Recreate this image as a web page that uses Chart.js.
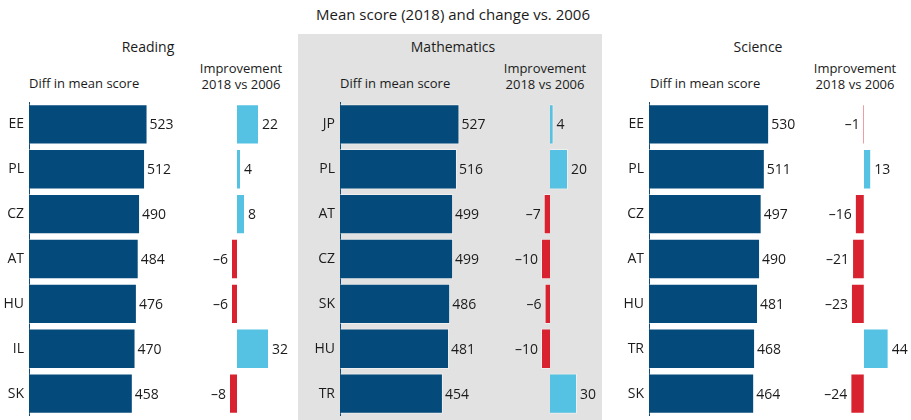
<!DOCTYPE html>
<html><head><meta charset="utf-8">
<script src="https://cdn.jsdelivr.net/npm/chart.js@4.4.1/dist/chart.umd.min.js"></script>
<style>
html,body{margin:0;padding:0;background:#fff;}
body{width:911px;height:420px;position:relative;overflow:hidden;font-family:"Open Sans",sans-serif;color:#1b1b1b;}
.box{position:absolute;}
.c{position:absolute;white-space:nowrap;transform:translate(-50%,-50%);text-align:center;line-height:16px;}
.l{position:absolute;white-space:nowrap;transform:translate(0,-50%);line-height:16px;}
</style></head><body>
<div class="box" style="left:298px;top:34px;width:304px;height:386px;background:#e1e2e1"></div>

<div class="c" style="left:453px;top:14px;font-size:15px;font-weight:500">Mean score (2018) and change vs. 2006</div>

<div class="c" style="left:148px;top:47px;font-size:14px;font-weight:500">Reading</div>
<div class="c" style="left:453px;top:47px;font-size:14px;font-weight:500">Mathematics</div>
<div class="c" style="left:758px;top:47px;font-size:14px;font-weight:500">Science</div>

<div class="l" style="left:29px;top:83px;font-size:13px">Diff in mean score</div>
<div class="l" style="left:340px;top:83px;font-size:13px">Diff in mean score</div>
<div class="l" style="left:650px;top:83px;font-size:13px">Diff in mean score</div>

<div class="c" style="left:241px;top:75.5px;font-size:13px">Improvement<br>2018 vs 2006</div>
<div class="c" style="left:545px;top:75.5px;font-size:13px">Improvement<br>2018 vs 2006</div>
<div class="c" style="left:855px;top:75.5px;font-size:13px">Improvement<br>2018 vs 2006</div>

<div class="box" style="left:0px;top:102px;width:205px;height:314px"><canvas id="s1"></canvas></div>
<div class="box" style="left:197px;top:102px;width:105px;height:314px"><canvas id="d1"></canvas></div>
<div class="box" style="left:311px;top:102px;width:205px;height:314px"><canvas id="s2"></canvas></div>
<div class="box" style="left:511px;top:102px;width:105px;height:314px"><canvas id="d2"></canvas></div>
<div class="box" style="left:620px;top:102px;width:205px;height:314px"><canvas id="s3"></canvas></div>
<div class="box" style="left:817px;top:102px;width:105px;height:314px"><canvas id="d3"></canvas></div>

<script>
const readingCountries = ['EE','PL','CZ','AT','HU','IL','SK'];
const readingScores = [523,512,490,484,476,470,458];
const readingChange = [22,4,8,-6,-6,32,-8];

const mathCountries = ['JP','PL','AT','CZ','SK','HU','TR'];
const mathScores = [527,516,499,499,486,481,454];
const mathChange = [4,20,-7,-10,-6,-10,30];

const scienceCountries = ['EE','PL','CZ','AT','HU','TR','SK'];
const scienceScores = [530,511,497,490,481,468,464];
const scienceChange = [-1,13,-16,-21,-23,44,-24];

const DARK = '#044a7a', LIGHT = '#55c2e3', RED = '#d9222f', TXT = '#1b1b1b';
const FONT = '"Open Sans", sans-serif';

const valueLabels = {
  id: 'valueLabels',
  afterDatasetsDraw(chart, args, opts) {
    const ctx = chart.ctx;
    const meta = chart.getDatasetMeta(0);
    const data = chart.data.datasets[0].data;
    ctx.save();
    ctx.font = '14px ' + FONT;
    ctx.fillStyle = TXT;
    ctx.textBaseline = 'middle';
    meta.data.forEach((bar, i) => {
      const v = data[i];
      if (v < 0) {
        ctx.textAlign = 'right';
        ctx.fillText('\u2013' + Math.abs(v), bar.x - 3, bar.y + 1);
      } else {
        ctx.textAlign = 'left';
        ctx.fillText(String(v), bar.x + (opts.gap || 3), bar.y + 1);
      }
    });
    ctx.restore();
  }
};

function scoreChart(id, labels, values) {
  return new Chart(document.getElementById(id), {
    type: 'bar',
    data: { labels: labels, datasets: [{ data: values, backgroundColor: DARK,
      borderColor: 'rgba(255,255,255,0.45)', borderWidth: 1,
      barPercentage: 0.9, categoryPercentage: 1 }] },
    options: {
      indexAxis: 'y', responsive: true, maintainAspectRatio: false, animation: false,
      layout: { padding: { left: 0, right: 40, top: 0, bottom: 0 } },
      plugins: { legend: { display: false }, tooltip: { enabled: false }, valueLabels: { gap: 2 } },
      scales: {
        x: { display: false, min: 0, max: 600 },
        y: {
          grid: { display: false, drawTicks: false, tickLength: 0 },
          border: { display: true, color: '#0d4a78', width: 1 },
          ticks: { color: TXT, padding: 5, font: { family: FONT, size: 14 } },
          afterFit(s) { s.width = 29; s.paddingTop = 0; s.paddingBottom = 0; }
        }
      }
    },
    plugins: [valueLabels]
  });
}

function changeChart(id, values, mn, mx) {
  return new Chart(document.getElementById(id), {
    type: 'bar',
    data: { labels: values.map((v, i) => i), datasets: [{ data: values,
      backgroundColor: values.map(v => v < 0 ? RED : LIGHT),
      borderColor: 'rgba(255,255,255,0.45)', borderWidth: 1, minBarLength: 1,
      barPercentage: 0.9, categoryPercentage: 1 }] },
    options: {
      indexAxis: 'y', responsive: true, maintainAspectRatio: false, animation: false,
      layout: { padding: { left: 30, right: 30, top: 0, bottom: 0 } },
      plugins: { legend: { display: false }, tooltip: { enabled: false }, valueLabels: { gap: 3 } },
      scales: {
        x: { display: false, min: mn, max: mx },
        y: { display: false }
      }
    },
    plugins: [valueLabels]
  });
}

scoreChart('s1', readingCountries, readingScores);
changeChart('d1', readingChange, -10, 35);
scoreChart('s2', mathCountries, mathScores);
changeChart('d2', mathChange, -10, 40);
scoreChart('s3', scienceCountries, scienceScores);
changeChart('d3', scienceChange, -30, 50);
</script>
</body></html>
